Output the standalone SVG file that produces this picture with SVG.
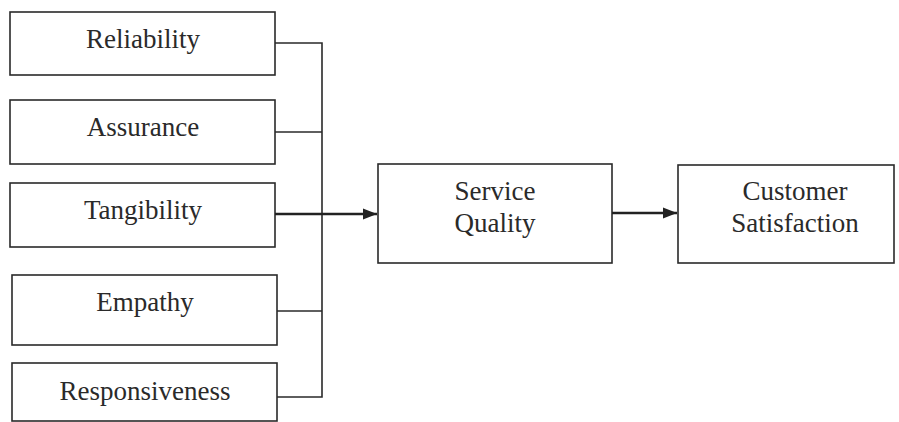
<svg xmlns="http://www.w3.org/2000/svg" width="899" height="422" viewBox="0 0 899 422">
<defs>
<marker id="ah" viewBox="0 0 10 10" refX="10" refY="5" markerWidth="5.5" markerHeight="5.5" orient="auto" markerUnits="strokeWidth">
<path d="M0,1 L10,5 L0,9 z" fill="#222"/>
</marker>
<style>
.box{fill:#fff;stroke:#2a2a2a;stroke-width:1.6}
.t{font-family:"Liberation Serif","Times New Roman",serif;font-size:27px;fill:#2a2a2a;text-anchor:middle}
.ln{fill:none;stroke:#2a2a2a;stroke-width:1.6}
.ar{fill:none;stroke:#222;stroke-width:2.6}
</style>
</defs>
<rect width="899" height="422" fill="#fff"/>
<g id="reliability"><rect class="box" x="10" y="12" width="265" height="63"/><text class="t" x="143" y="48">Reliability</text></g>
<g id="assurance"><rect class="box" x="10" y="100" width="265" height="64"/><text class="t" x="143" y="136">Assurance</text></g>
<g id="tangibility"><rect class="box" x="10" y="183" width="265" height="64"/><text class="t" x="143" y="219">Tangibility</text></g>
<g id="empathy"><rect class="box" x="12" y="275" width="265" height="70"/><text class="t" x="145" y="311">Empathy</text></g>
<g id="responsiveness"><rect class="box" x="12" y="363" width="265" height="58"/><text class="t" x="145" y="400">Responsiveness</text></g>
<g id="service-quality"><rect class="box" x="378" y="164" width="234" height="99"/><text class="t" x="495" y="200">Service</text><text class="t" x="495" y="232">Quality</text></g>
<g id="customer-satisfaction"><rect class="box" x="678" y="165" width="216" height="98"/><text class="t" x="795" y="200">Customer</text><text class="t" x="795" y="232">Satisfaction</text></g>
<g id="connectors">
<path class="ln" d="M275,43 H322 V397 H277"/>
<path class="ln" d="M275,132 H322"/>
<path class="ln" d="M277,311 H322"/>
<path class="ar" d="M275,214 H377" marker-end="url(#ah)"/>
<path class="ar" d="M612,213 H677" marker-end="url(#ah)"/>
</g>
</svg>
